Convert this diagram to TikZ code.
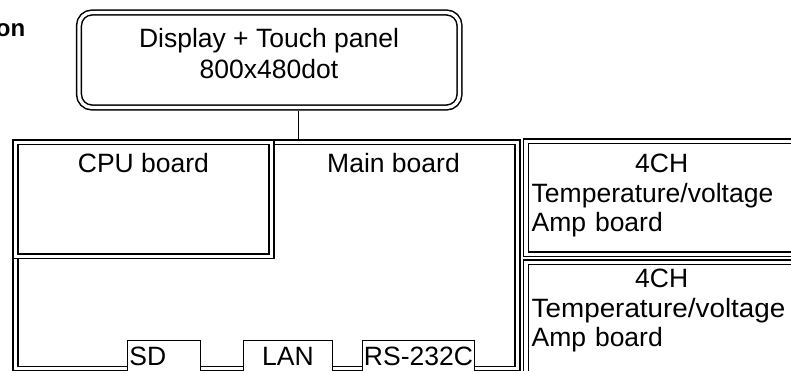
\documentclass[tikz,border=0pt]{standalone}
\usepackage{fontspec}
\usepackage{graphicx}
\setmainfont{Liberation Sans}

\tikzset{
  % double-ruled outlines of the boards
  board/.style={draw, double=white, double distance=3.3pt, line width=1.5pt,
                inner sep=0pt, anchor=north west},
  panel/.style={board, rounded corners=13pt, anchor=center},
  port/.style={draw, fill=white, line width=0.9pt, anchor=north west,
               minimum height=32pt, inner sep=2pt, font=\boardfont},
  txt/.style={inner sep=0pt, font=\boardfont},
  wire/.style={draw, line width=0.9pt},
}
\newcommand{\boardfont}{\fontsize{26.5}{29.5}\selectfont}

\begin{document}
\begin{tikzpicture}[x=1pt, y=-1pt]
  \useasboundingbox (0,0) rectangle (791,370);

  % cut-off heading at the left
  \node[inner sep=0pt, anchor=base east, font=\bfseries\fontsize{24}{28}\selectfont]
    (ttl) at (25.5,36) {on};

  % display on top, tapped off-centre
  \node[panel, minimum width=380.5pt, minimum height=95pt] (disp) at (269.25,60) {};
  \node[txt, anchor=north, align=center] (disptxt) at (269,28)
    {Display + Touch panel\\[1.5pt]800x480dot};
  \coordinate (tap) at (298,0);

  % main board with the CPU board in its corner
  \node[board, minimum width=502pt, minimum height=226.5pt] (main) at (14.8,141.5) {};
  \node[board, fill=white, minimum width=255.8pt, minimum height=114pt] (cpu) at (14.8,141.5) {};
  \node[txt, anchor=base] (cputxt) at (cpu.north |- 0,172) {CPU board};
  \node[txt, anchor=base] (maintxt) at (393.5,172) {Main board};
  \draw[wire, shorten <=2.4pt, shorten >=2.4pt] (disp.south -| tap) -- (tap |- main.north);

  % connectors on the lower edge
  \node[port, text width=69pt, align=left] (sd) at (127,340) {SD};
  \node[port, minimum width=89pt] (lan) at (243,340) {LAN};
  \node[port, minimum width=112pt, inner xsep=1pt] (rs) at (362,340) {RS-232C};

  % amp boards
  \node[board, minimum width=300pt, minimum height=113pt] (amp1) at (525.3,140.5) {};
  \node[board, minimum width=300pt, minimum height=140pt] (amp2) at (525.3,261.5) {};
  \node[txt, anchor=north west, text width=260pt, align=left] (amp1txt) at (531.5,154)
    {\makebox[260pt]{4CH}\\Temperature/voltage\\Amp board};
  \node[txt, anchor=north west, text width=260pt, align=left] (amp2txt) at (531.5,269)
    {\makebox[260pt]{4CH}\\\scalebox{1.05}[1]{Temperature/voltage}\\Amp board};
\end{tikzpicture}
\end{document}
